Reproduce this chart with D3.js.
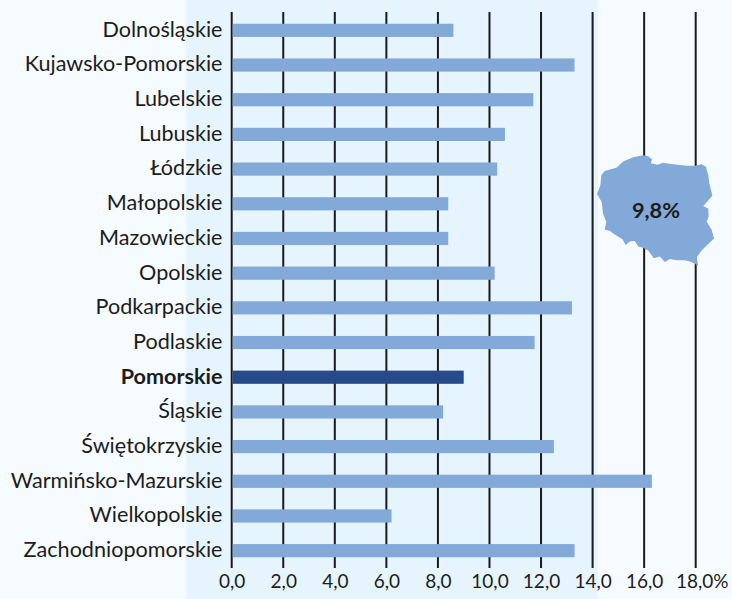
<!DOCTYPE html>
<html><head><meta charset="utf-8">
<script src="https://cdn.jsdelivr.net/npm/d3@7"></script>
<style>
html,body{margin:0;padding:0;background:#f5fbff}
svg{display:block}
text{font-family:Lato,"Open Sans",sans-serif;fill:#1c1c1c}
</style></head><body>
<svg id="c" width="732" height="599"></svg>
<script>
const categories=["Dolnośląskie","Kujawsko-Pomorskie","Lubelskie","Lubuskie","Łódzkie","Małopolskie","Mazowieckie","Opolskie","Podkarpackie","Podlaskie","Pomorskie","Śląskie","Świętokrzyskie","Warmińsko-Mazurskie","Wielkopolskie","Zachodniopomorskie"];
const values=[8.6,13.3,11.7,10.6,10.3,8.4,8.4,10.2,13.2,11.75,9.0,8.2,12.5,16.3,6.2,13.3];
const highlighted="Pomorskie";
const tickValues=[0,2,4,6,8,10,12,14,16,18];
const tickLabels=["0,0","2,0","4,0","6,0","8,0","10,0","12,0","14,0","16,0","18,0%"];
const nationalLabel="9,8%";
// Outline of Poland, [longitude, latitude]
const polandOutline=[[18.07,54.84],[18.5,54.79],[18.85,54.62],[18.73,54.44],[19.36,54.36],[19.74,54.46],[20.65,54.39],[21.8,54.32],[22.52,54.32],[23.09,54.39],[23.46,54.27],[23.66,53.84],[23.75,53.41],[24.01,52.8],[23.66,52.54],[23.23,52.25],[23.66,52.11],[23.69,51.68],[23.52,51.42],[23.95,50.99],[24.15,50.52],[23.66,50.21],[23.09,49.86],[22.66,49.48],[22.8,49.0],[22.23,49.21],[21.66,49.31],[20.94,49.31],[20.37,49.38],[19.94,49.21],[19.51,49.52],[18.99,49.43],[18.5,49.86],[18.07,50.0],[17.65,50.07],[17.36,50.38],[16.93,50.35],[16.58,50.16],[16.3,50.47],[15.64,50.73],[15.21,50.93],[14.78,50.99],[14.92,51.42],[14.64,51.85],[14.52,52.46],[14.12,52.89],[14.41,53.32],[14.49,53.84],[14.78,54.05],[15.78,54.22],[16.36,54.53],[17.22,54.74]];
const W=732,H=599;
const x=d3.scaleLinear().domain([0,18]).range([231.7,695.7]);
const y=d3.scaleBand().domain(categories).range([13,568]).paddingInner(0.62).paddingOuter(0.31);
const svg=d3.select("#c");
svg.append("rect").attr("width",W).attr("height",H).attr("fill","#f5fbff");
svg.append("rect").attr("x",186).attr("y",0).attr("width",412).attr("height",H).attr("fill","#e6f4fd");
svg.append("g").selectAll("line").data(tickValues).join("line")
  .attr("x1",d=>x(d)).attr("x2",d=>x(d)).attr("y1",12).attr("y2",568)
  .attr("stroke","#1a1a1a").attr("stroke-width",2);
svg.append("g").selectAll("rect").data(categories).join("rect")
  .attr("x",x(0)+1).attr("y",d=>y(d)).attr("height",y.bandwidth())
  .attr("width",(d,i)=>x(values[i])-x(0)-1)
  .attr("fill",d=>d===highlighted?"#264a8a":"#83a9d8");
svg.append("g").selectAll("text").data(categories).join("text")
  .attr("x",222.5).attr("y",d=>y(d)+y.bandwidth()/2-1).attr("dy","0.34em")
  .attr("text-anchor","end").attr("font-size",21.6)
  .attr("font-weight",d=>d===highlighted?700:400).text(d=>d);
const axis=d3.axisBottom(x).tickValues(tickValues).tickSize(0).tickPadding(0)
  .tickFormat((d,i)=>tickLabels[i]);
const ax=svg.append("g").attr("transform","translate(0,574)").call(axis);
ax.select(".domain").remove();
ax.selectAll("text").attr("font-size",19).attr("dy","0.71em").style("font-family","Lato")
  .attr("dx",(d,i)=>i===tickLabels.length-1?6:0);
const geo={type:"Feature",geometry:{type:"Polygon",coordinates:[polandOutline.concat([polandOutline[0]])]}};
const projection=d3.geoMercator().fitExtent([[597,154],[714,267]],geo);
svg.append("path").datum(geo).attr("d",d3.geoPath(projection)).attr("fill","#83a9d8");
svg.append("text").attr("x",656).attr("y",210).attr("dy","0.35em").attr("text-anchor","middle")
  .attr("font-size",21.8).attr("font-weight",700).text(nationalLabel);
</script>
</body></html>
